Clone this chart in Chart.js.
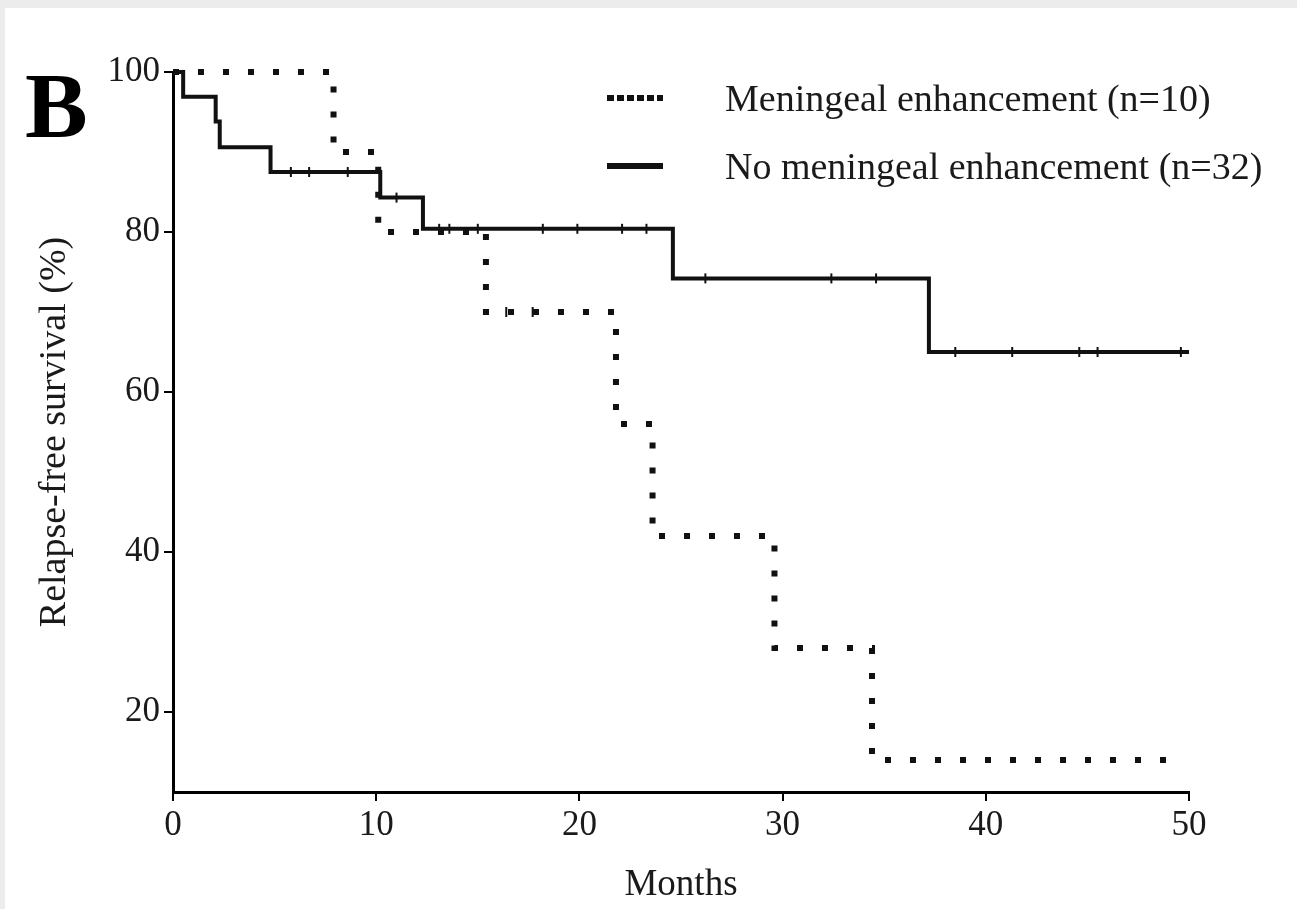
<!DOCTYPE html>
<html>
<head>
<meta charset="utf-8">
<script src="https://cdn.jsdelivr.net/npm/chart.js@4/dist/chart.umd.min.js"></script>
<style>
  body { margin: 0; background: #fff; }
  #wrap { position: relative; width: 1297px; height: 909px; background: #ececec; overflow: hidden; }
  #panel { position: absolute; left: 5px; top: 8px; right: 0; bottom: 0; background: #fff; }
  #km { position: absolute; left: 0; top: 0; }
  .txt { position: absolute; font-family: 'Liberation Serif', 'Times New Roman', serif; color: #1a1a1a; white-space: nowrap; }
  #panelLabel { left: 25px; top: 58px; font-size: 94px; font-weight: bold; color: #000; line-height: 1; }
  .legItem { position: absolute; left: 607px; height: 44px; }
  .legItem .swatch { position: absolute; left: 0; width: 56px; height: 6px; }
  .legItem .lab { left: 118px; top: 0; font-size: 38px; line-height: 44px; }
  .dots { background: repeating-linear-gradient(90deg, #111 0 7px, transparent 7px 10px); }
  .solid { background: #111; }
</style>
</head>
<body>
<div id="wrap">
  <div id="panel"></div>
  <canvas id="km" width="1297" height="909"></canvas>
  <div class="txt" id="panelLabel">B</div>
  <div class="legItem" style="top:76px"><div class="swatch dots" style="top:19px"></div><div class="txt lab">Meningeal enhancement (n=10)</div></div>
  <div class="legItem" style="top:144px"><div class="swatch solid" style="top:19px"></div><div class="txt lab">No meningeal enhancement (n=32)</div></div>
</div>
<script>
// Meningeal enhancement (n=10): event times (months) and survival after each step
const meTimes = [0, 7.9, 10.1, 15.4, 21.8, 23.6, 29.6, 34.4, 49.8];
const meSurv  = [100, 90, 80, 70, 56, 42, 28, 14, 14];
const meCensor = [16.4, 17.7];

// No meningeal enhancement (n=32)
const noTimes = [0, 0.5, 2.1, 2.3, 4.8, 10.2, 12.3, 24.6, 37.2, 50];
const noSurv  = [100, 96.9, 93.8, 90.6, 87.5, 84.3, 80.4, 74.2, 65.0, 65.0];
const noCensor = [5.8, 6.7, 8.6, 11.0, 13.1, 13.6, 15.0, 18.2, 19.9, 22.1, 23.3,
                  26.2, 32.4, 34.6, 38.5, 41.3, 44.6, 45.5, 49.6];

const xTicks = [0, 10, 20, 30, 40, 50];
const yTicks = [20, 40, 60, 80, 100];

const serif = "'Liberation Serif', 'Times New Roman', serif";
const ink = '#1a1a1a';

function steps(times, surv) {
  return times.map((t, i) => ({ x: t, y: surv[i] }));
}
// survival value just after time t (for censor marks)
function survAt(times, surv, t) {
  let v = surv[0];
  for (let i = 0; i < times.length; i++) if (times[i] <= t) v = surv[i];
  return v;
}
function censorPts(times, surv, list) {
  return list.map(t => ({ x: t, y: survAt(times, surv, t) }));
}

new Chart(document.getElementById('km'), {
  type: 'scatter',
  data: {
    datasets: [
      {
        label: 'Meningeal enhancement (n=10)',
        data: steps(meTimes, meSurv),
        showLine: true,
        stepped: true,
        clip: false,
        borderColor: '#111',
        borderWidth: 6,
        borderDash: [6, 19],
        borderCapStyle: 'butt',
        pointRadius: 0
      },
      {
        label: 'No meningeal enhancement (n=32)',
        data: steps(noTimes, noSurv),
        showLine: true,
        stepped: true,
        clip: false,
        borderColor: '#111',
        borderWidth: 4,
        pointRadius: 0
      },
      {
        label: 'censored',
        data: censorPts(noTimes, noSurv, noCensor).concat(censorPts(meTimes, meSurv, meCensor)),
        pointStyle: 'line',
        rotation: 90,
        pointRadius: 5,
        clip: false,
        borderColor: '#111',
        pointBorderWidth: 2
      }
    ]
  },
  options: {
    responsive: false,
    animation: false,
    layout: { padding: { top: 72, right: 108, left: 0, bottom: 0 } },
    plugins: { legend: { display: false }, tooltip: { enabled: false } },
    scales: {
      x: {
        type: 'linear',
        min: 0,
        max: 50,
        afterBuildTicks: s => { s.ticks = xTicks.map(v => ({ value: v })); },
        afterFit: s => { s.height = 117; },
        border: { color: '#000', width: 3 },
        grid: { drawOnChartArea: false, color: '#000', lineWidth: 2, tickLength: 9 },
        ticks: { font: { family: serif, size: 35 }, color: ink, padding: 4 },
        title: { display: true, text: 'Months', font: { family: serif, size: 37 }, color: ink, padding: { top: 0, bottom: 2 } }
      },
      y: {
        type: 'linear',
        min: 10,
        max: 100,
        afterBuildTicks: s => { s.ticks = yTicks.map(v => ({ value: v })); },
        afterFit: s => { s.width = 173; },
        border: { color: '#000', width: 3 },
        grid: { drawOnChartArea: false, color: '#000', lineWidth: 2, tickLength: 9 },
        ticks: { font: { family: serif, size: 35 }, color: ink, padding: 4 },
        title: { display: true, text: 'Relapse-free survival (%)', font: { family: serif, size: 38 }, color: ink, padding: { top: 32, bottom: 0 } }
      }
    }
  }
});
</script>
</body>
</html>
